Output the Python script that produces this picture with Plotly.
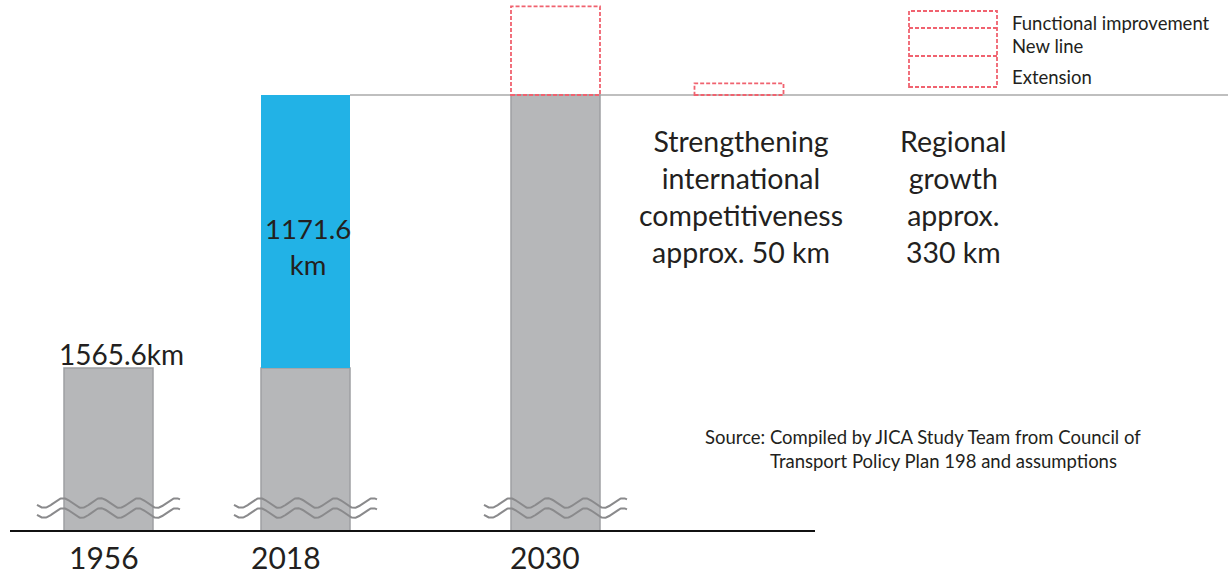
import numpy as np
import plotly.graph_objects as go

# ---- data -------------------------------------------------------------
years = ["1956", "2018", "2030"]
network_1956 = 1565.6          # km, network length in 1956
added_by_2018 = 1171.6         # km, lines added between 1956 and 2018
intl_competitiveness = 50      # km, strengthening international competitiveness
regional_growth = 330          # km, regional growth
legend_labels = ["Functional improvement", "New line", "Extension"]

network_2018 = network_1956 + added_by_2018
planned_2030 = intl_competitiveness + regional_growth
gray_values = [network_1956, network_1956, network_2018]

# ---- layout constants ---------------------------------------------------
W, H = 1228, 574
BASE_PX = 531                       # pixel row of the broken axis baseline
PX_PER_KM = 273 / added_by_2018     # vertical scale
AXIS_BASE = network_1956 - 163 / PX_PER_KM   # km value at the baseline (axis is broken)
Y_MIN = AXIS_BASE - (H - BASE_PX) / PX_PER_KM
Y_MAX = AXIS_BASE + BASE_PX / PX_PER_KM

bar_centers = [108.5, 305.5, 555.5]
year_label_x = [104, 286, 545]
bar_width = 89
small_box_center = 739

GRAY = "#b6b7b9"
GRAY_EDGE = "#9ea0a3"
BLUE = "#22b2e6"
RED = "#f0626f"
TEXT = "#231f20"
FONT = "Lato"
DASH = "4px,2px"


def km_at(py):
    """km value for a pixel row."""
    return AXIS_BASE + (BASE_PX - py) / PX_PER_KM


fig = go.Figure()

# gray bars (existing network), drawn from the broken baseline
fig.add_trace(go.Bar(
    x=bar_centers, y=[v - AXIS_BASE for v in gray_values], base=AXIS_BASE,
    width=bar_width, marker=dict(color=GRAY, line=dict(color=GRAY_EDGE, width=1.5)),
    hoverinfo="skip", showlegend=False,
))
# blue segment: additions up to 2018
fig.add_trace(go.Bar(
    x=[bar_centers[1]], y=[added_by_2018], base=network_1956,
    width=bar_width, marker=dict(color=BLUE, line=dict(width=0)),
    hoverinfo="skip", showlegend=False,
))

# break marks (double wavy lines) over the lower part of each bar
t = np.linspace(0, 1, 240)
for cx in bar_centers:
    xs = cx - 71.5 + 143 * t
    for row in (503, 513):
        ys = km_at(row + 4.8 * np.sin(2 * np.pi * 3.8 * t + 0.4))
        fig.add_trace(go.Scatter(
            x=xs, y=ys, mode="lines", line=dict(color="#8a8a8c", width=2),
            hoverinfo="skip", showlegend=False,
        ))

shapes = []
# baseline
shapes.append(dict(type="line", x0=10, x1=815, y0=AXIS_BASE, y1=AXIS_BASE,
                   line=dict(color="#111111", width=2)))
# reference line at the 2018 network length
shapes.append(dict(type="line", x0=bar_centers[1] + bar_width / 2, x1=W,
                   y0=network_2018, y1=network_2018,
                   line=dict(color="#aaaaaa", width=1.5), layer="below"))
# planned 2030 additions (dashed)
shapes.append(dict(type="rect", x0=bar_centers[2] - bar_width / 2, x1=bar_centers[2] + bar_width / 2,
                   y0=network_2018, y1=network_2018 + planned_2030,
                   line=dict(color=RED, width=1.8, dash=DASH)))
shapes.append(dict(type="rect", x0=small_box_center - bar_width / 2, x1=small_box_center + bar_width / 2,
                   y0=network_2018, y1=network_2018 + intl_competitiveness,
                   line=dict(color=RED, width=1.8, dash=DASH)))
# legend key: one dashed box split into three rows
key_rows = [11, 28, 56, 87]
shapes.append(dict(type="rect", x0=909, x1=997, y0=km_at(key_rows[-1]), y1=km_at(key_rows[0]),
                   line=dict(color=RED, width=1.8, dash=DASH)))
for row in key_rows[1:-1]:
    shapes.append(dict(type="line", x0=909, x1=997, y0=km_at(row), y1=km_at(row),
                       line=dict(color=RED, width=1.8, dash=DASH)))

annotations = []


def label(text, x, py, size, anchor="center"):
    annotations.append(dict(
        text=text, x=x, y=km_at(py), xref="x", yref="y", showarrow=False,
        xanchor=anchor, yanchor="middle", align="center",
        font=dict(family=FONT, size=size, color=TEXT),
    ))


for lx, yr in zip(year_label_x, years):
    label(yr, lx, 557, 30)
label(f"{network_1956}km", bar_centers[0] + 13, 354, 28)
label(f"{added_by_2018}<br>km", bar_centers[1] + 2, 246, 27.5)
label(f"Strengthening<br>international<br>competitiveness<br>approx. {intl_competitiveness} km",
      741, 196, 28.5)
label(f"Regional<br>growth<br>approx.<br>{regional_growth} km", 953, 196, 28.5)

for text, py in zip(legend_labels, [23, 46, 77]):
    label(text, 1010, py, 18.5, anchor="left")

label("Source: Compiled by JICA Study Team from Council of", 703, 437, 18.5, anchor="left")
label("Transport Policy Plan 198 and assumptions", 768, 461, 18.5, anchor="left")

fig.update_layout(
    width=W, height=H, margin=dict(l=0, r=0, t=0, b=0),
    paper_bgcolor="white", plot_bgcolor="white",
    barmode="overlay", showlegend=False,
    xaxis=dict(range=[0, W], visible=False, fixedrange=True),
    yaxis=dict(range=[Y_MIN, Y_MAX], visible=False, fixedrange=True),
    shapes=shapes, annotations=annotations,
)

fig.write_html("out.html")
